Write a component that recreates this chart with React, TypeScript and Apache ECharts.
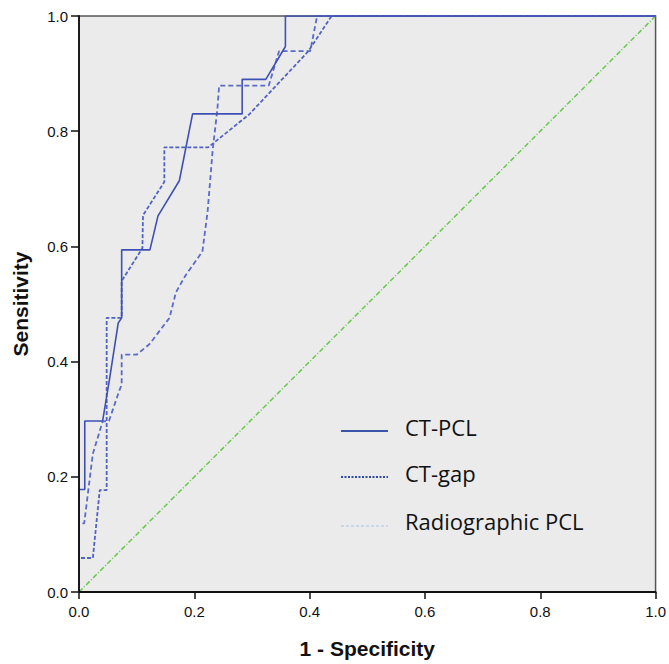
import { useEffect, useRef } from "react";
import * as echarts from "echarts";

const xTicks = [0, 0.2, 0.4, 0.6, 0.8, 1.0];
const yTicks = [0, 0.2, 0.4, 0.6, 0.8, 1.0];

const seriesNames = ["CT-PCL", "CT-gap", "Radiographic PCL"];

const ctPcl: [number, number][] = [
  [0, 0], [0, 0.178], [0.01, 0.178], [0.01, 0.297], [0.041, 0.297],
  [0.053, 0.37], [0.068, 0.467], [0.074, 0.476], [0.074, 0.594],
  [0.123, 0.594], [0.137, 0.653], [0.174, 0.714], [0.197, 0.83],
  [0.283, 0.83], [0.283, 0.89], [0.324, 0.89], [0.358, 0.947],
  [0.358, 1.0], [1.0, 1.0],
];

const ctGap: [number, number][] = [
  [0, 0], [0, 0.059], [0.024, 0.059], [0.036, 0.177], [0.048, 0.177],
  [0.048, 0.476], [0.074, 0.476], [0.074, 0.54], [0.11, 0.597],
  [0.111, 0.654], [0.148, 0.712], [0.148, 0.772], [0.224, 0.772],
  [0.295, 0.829], [0.398, 0.939], [0.438, 1.0], [1.0, 1.0],
];

const radiographicPcl: [number, number][] = [
  [0, 0], [0, 0.119], [0.009, 0.119], [0.024, 0.24], [0.041, 0.296],
  [0.052, 0.297], [0.069, 0.347], [0.074, 0.36], [0.074, 0.412],
  [0.1, 0.412], [0.122, 0.43], [0.157, 0.476], [0.168, 0.52],
  [0.185, 0.55], [0.214, 0.591], [0.223, 0.66], [0.232, 0.769],
  [0.24, 0.838], [0.243, 0.879], [0.329, 0.879], [0.347, 0.939],
  [0.401, 0.939], [0.413, 1.0], [1.0, 1.0],
];

const referenceLine: [number, number][] = [[0, 0], [1, 1]];

export default function App() {
  const ref = useRef<HTMLDivElement>(null);

  useEffect(() => {
    const chart = echarts.init(ref.current!, null, { renderer: "svg" });

    const legendRows = [
      { y: 431, textY: 427, color: "#3b55a8", type: "solid", width: 2 },
      { y: 477, textY: 473, color: "#2f4aa0", type: [2, 1.5], width: 2 },
      { y: 526, textY: 521, color: "#a9c1e8", type: [3, 2], width: 1.2 },
    ];

    const legendGraphics: any[] = [];
    legendRows.forEach((r, i) => {
      legendGraphics.push({
        type: "line",
        shape: { x1: 341, y1: r.y, x2: 388, y2: r.y },
        style: { stroke: r.color, lineWidth: r.width, lineDash: r.type === "solid" ? null : r.type },
        z: 100,
      });
      legendGraphics.push({
        type: "text",
        x: 405,
        y: r.textY,
        style: {
          text: seriesNames[i],
          font: '22px "Open Sans", sans-serif',
          fill: "#111",
          verticalAlign: "middle",
          align: "left",
        },
        z: 100,
      });
    });

    const labelFont = '"Liberation Sans", Arial, sans-serif';

    chart.setOption({
      animation: false,
      backgroundColor: "#ffffff",
      grid: {
        left: 79,
        right: 12,
        top: 16,
        bottom: 68,
        show: true,
        backgroundColor: "#ebebeb",
        borderColor: "#555",
        borderWidth: 1.5,
      },
      xAxis: {
        type: "value",
        min: 0,
        max: 1,
        interval: 0.2,
        z: 10,
        name: "1 - Specificity",
        nameLocation: "middle",
        nameGap: 46,
        nameTextStyle: {
          fontFamily: labelFont,
          fontWeight: "bold",
          fontSize: 21,
          color: "#111",
        },
        axisLine: { show: true, onZero: false, lineStyle: { color: "#111", width: 1.8 } },
        axisTick: { show: true, length: 7, lineStyle: { color: "#111", width: 1.5 } },
        axisLabel: {
          margin: 12,
          fontFamily: labelFont,
          fontSize: 15,
          color: "#111",
          formatter: (v: number) => (xTicks.includes(Math.round(v * 10) / 10) ? v.toFixed(1) : ""),
        },
        splitLine: { show: false },
      },
      yAxis: {
        type: "value",
        min: 0,
        max: 1,
        interval: 0.2,
        z: 10,
        name: "Sensitivity",
        nameLocation: "middle",
        nameGap: 48,
        nameTextStyle: {
          fontFamily: labelFont,
          fontWeight: "bold",
          fontSize: 21,
          color: "#111",
        },
        axisLine: { show: true, onZero: false, lineStyle: { color: "#111", width: 1.8 } },
        axisTick: { show: true, length: 8, lineStyle: { color: "#111", width: 1.5 } },
        axisLabel: {
          margin: 11,
          fontFamily: labelFont,
          fontSize: 15,
          color: "#111",
          formatter: (v: number) => (yTicks.includes(Math.round(v * 10) / 10) ? v.toFixed(1) : ""),
        },
        splitLine: { show: false },
      },
      series: [
        {
          name: "Reference",
          type: "line",
          data: referenceLine,
          showSymbol: false,
          symbol: "none",
          lineStyle: { color: "#66c94a", width: 1.5, type: [5, 2, 1, 2] },
          z: 1,
        },
        {
          name: seriesNames[2],
          type: "line",
          data: radiographicPcl,
          showSymbol: false,
          symbol: "none",
          lineStyle: { color: "#5a6bc8", width: 1.8, type: [5, 3] },
          z: 2,
        },
        {
          name: seriesNames[1],
          type: "line",
          data: ctGap,
          showSymbol: false,
          symbol: "none",
          lineStyle: { color: "#5262c4", width: 1.8, type: [4, 2] },
          z: 3,
        },
        {
          name: seriesNames[0],
          type: "line",
          data: ctPcl,
          showSymbol: false,
          symbol: "none",
          lineStyle: { color: "#3f50b5", width: 1.6, type: "solid" },
          z: 4,
        },
      ],
      graphic: legendGraphics,
    });

    return () => chart.dispose();
  }, []);

  return (
    <div
      ref={ref}
      style={{ position: "fixed", left: 0, top: 0, width: 669, height: 664 }}
    />
  );
}
